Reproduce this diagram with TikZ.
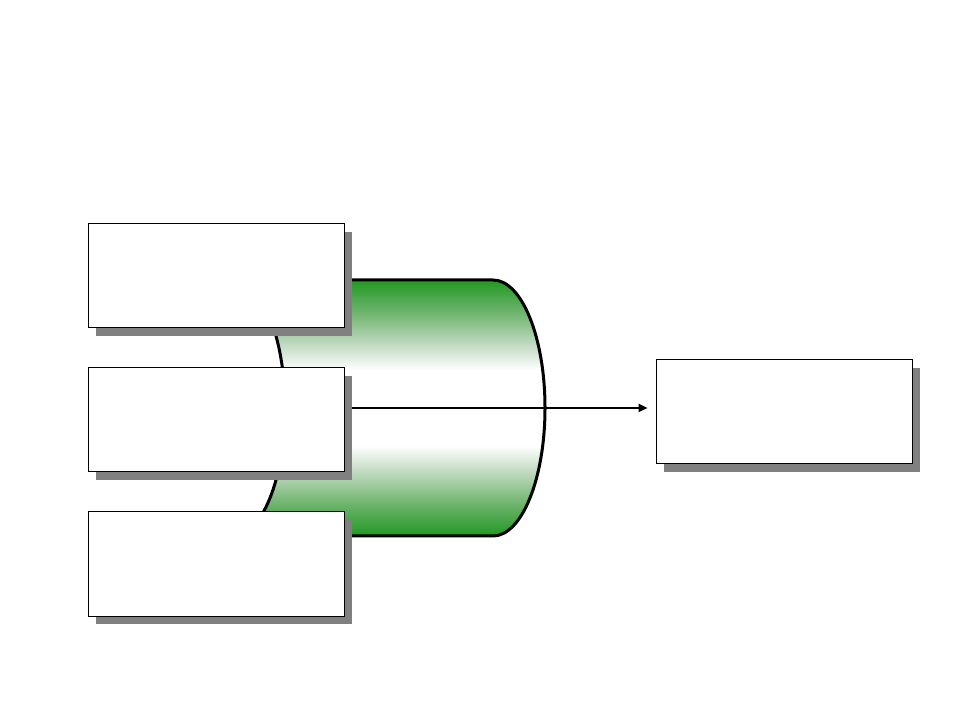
\documentclass[tikz,border=0pt]{standalone}
\usetikzlibrary{shadows,arrows.meta,backgrounds}
\definecolor{cylgreen}{RGB}{34,152,34}
\definecolor{cylmid}{RGB}{105,178,105}
\definecolor{cyllight}{RGB}{195,218,195}
\definecolor{shadowgray}{RGB}{128,128,128}
\pgfdeclareverticalshading{cylshade}{100bp}{%
  color(0bp)=(cylgreen); color(25bp)=(cylgreen); color(30.9bp)=(cylmid);
  color(37.7bp)=(cyllight); color(42.6bp)=(white); color(57.4bp)=(white);
  color(62.3bp)=(cyllight); color(69.1bp)=(cylmid); color(75bp)=(cylgreen); color(100bp)=(cylgreen)}
\begin{document}
\begin{tikzpicture}[x=1pt,y=1pt,
  infobox/.style={draw=black, line width=1pt, fill=white, minimum width=256pt, minimum height=104pt, inner sep=0pt,
    drop shadow={shadow xshift=8pt, shadow yshift=-8pt, fill=shadowgray, opacity=1}},
  flow/.style={line width=2.6pt, -{Triangle[length=9pt,width=8pt]}}]
\useasboundingbox (0,0) rectangle (960,720);
\node[infobox] (b1) at (216,444) {};
\node[infobox] (b2) at (216,300) {};
\node[infobox] (b3) at (216,156) {};
\node[infobox] (r) at (784,308) {};
\coordinate (a) at (344,312);
\begin{pgfonlayer}{background}
\shade[shading=cylshade, draw=black, line width=3pt]
  (233,440) -- (493,440) arc[start angle=90, end angle=-90, x radius=52pt, y radius=128pt]
  -- (233,184) arc[start angle=-90, end angle=90, x radius=52pt, y radius=128pt] -- cycle;
\draw[flow, shorten >=8pt] (a) -- (r.west |- a);
\end{pgfonlayer}
\end{tikzpicture}
\end{document}
